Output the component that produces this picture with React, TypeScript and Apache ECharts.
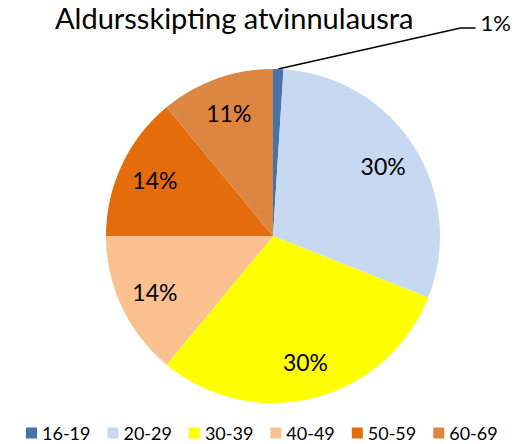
import React, { useEffect, useRef } from "react";
import * as echarts from "echarts";

const titleText = "Aldursskipting atvinnulausra";
const categories = ["16-19", "20-29", "30-39", "40-49", "50-59", "60-69"];
const values = [1, 30, 30, 14, 14, 11];
const colors = ["#4674AA", "#C6D9F1", "#FFFF00", "#FAC090", "#E46C0A", "#DD8641"];

const FONT = "Lato, 'Liberation Sans', sans-serif";

export default function App() {
  const ref = useRef<HTMLDivElement>(null);
  useEffect(() => {
    document.body.style.margin = "0";
    const chart = echarts.init(ref.current!, null, { renderer: "svg" });
    const total = values.reduce((a, b) => a + b, 0);
    const pct = (v: number) => Math.round((v / total) * 100) + "%";
    chart.setOption({
      animation: false,
      backgroundColor: "#ffffff",
      title: {
        text: titleText,
        left: 50,
        top: 2,
        padding: [0, 5, 0, 5],
        textStyle: { fontFamily: FONT, fontSize: 29, lineHeight: 30, fontWeight: "normal", color: "#000" },
      },
      legend: {
        data: categories,
        left: 21,
        top: 419,
        itemWidth: 11,
        itemHeight: 11,
        itemGap: 17,
        icon: "rect",
        textStyle: { fontFamily: FONT, fontSize: 18, color: "#000" },
      },
      series: [
        {
          type: "pie",
          center: [273, 236],
          radius: [0, 167],
          startAngle: 90,
          clockwise: true,
          avoidLabelOverlap: false,
          emphasis: { disabled: true },
          data: categories.map((c, i) => ({
            name: c,
            value: values[i],
            itemStyle: { color: colors[i] },
            label: {
              show: i === 0,
              position: "outside",
              formatter: () => pct(values[i]),
              fontFamily: FONT,
              fontSize: 22,
              color: "#000",
            },
            labelLine: {
              show: i === 0,
              length: 41,
              length2: 196,
              smooth: false,
              lineStyle: { color: "#000", width: 1.5 },
            },
          })),
          labelLayout: (params: any) => {
            if (params.dataIndex !== 0 || !params.labelLinePoints) return {};
            const pts = params.labelLinePoints.map((p: number[]) => [p[0], p[1]]);
            pts[1] = [pts[2][0] - 15, pts[2][1]];
            return { labelLinePoints: pts, dy: -6 };
          },
        },
        {
          type: "pie",
          center: [273, 236],
          radius: [88, 167],
          startAngle: 90,
          clockwise: true,
          silent: true,
          avoidLabelOverlap: false,
          emphasis: { disabled: true },
          itemStyle: { color: "rgba(0,0,0,0)" },
          labelLine: { show: false },
          data: categories.map((c, i) => ({
            name: c,
            value: values[i],
            label: {
              show: i !== 0,
              position: "inside",
              formatter: () => pct(values[i]),
              fontFamily: FONT,
              fontSize: 23,
              color: "#000",
            },
          })),
        },
      ],
    });
    return () => chart.dispose();
  }, []);
  return <div ref={ref} style={{ width: 524, height: 444 }} />;
}
